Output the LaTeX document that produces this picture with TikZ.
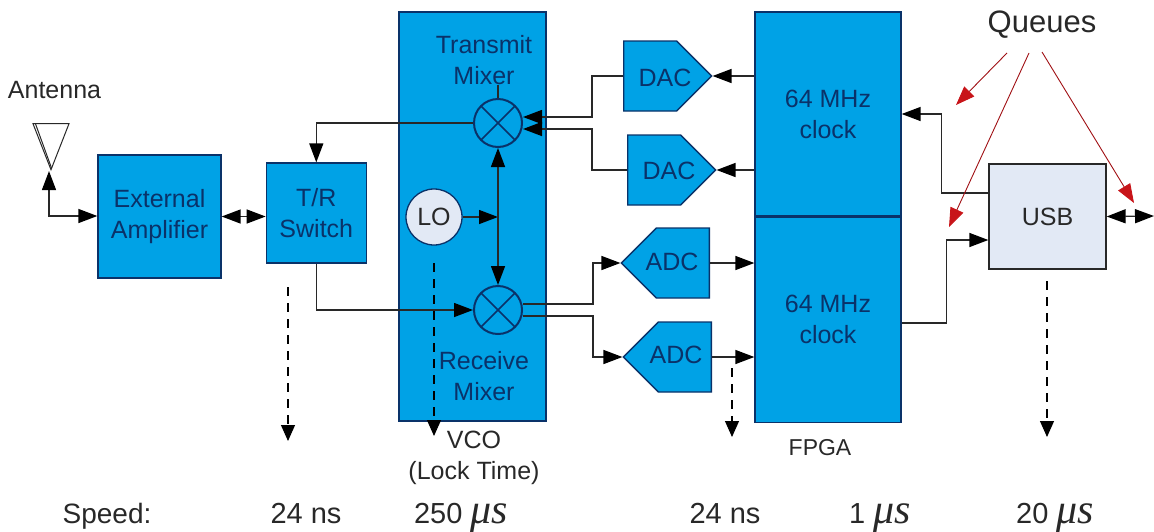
\documentclass[tikz,border=0pt]{standalone}
\usepackage{fontspec}
\setmainfont{Liberation Sans}
\newfontfamily\mufont{Liberation Serif}
\usepackage{tikz}
\usetikzlibrary{shapes.geometric,shapes.symbols,arrows.meta,positioning,calc}
\definecolor{blockblue}{RGB}{0,162,230}
\definecolor{navy}{RGB}{10,50,105}
\definecolor{pale}{RGB}{226,233,245}
\definecolor{inkgray}{RGB}{40,40,40}
\definecolor{queuered}{RGB}{200,20,25}
\newcommand{\fs}[1]{\fontsize{#1}{31}\selectfont}
\newcommand{\mus}{{\mufont\itshape\fs{42}μs}}
\begin{document}
\begin{tikzpicture}[x=1pt,y=-1pt,
  every node/.style={font=\fs{25},text=inkgray,inner sep=0pt},
  block/.style={draw=navy,line width=1.3pt,fill=blockblue,text=navy,align=center},
  dac/.style={block,signal,signal to=east,signal from=nowhere,signal pointer angle=90,
    minimum width=88pt,minimum height=70pt,anchor=west},
  adc/.style={block,signal,signal to=west,signal from=nowhere,signal pointer angle=90,
    minimum width=88pt,minimum height=70pt,anchor=east},
  mixer/.style={circle,draw=navy,line width=2pt,fill=blockblue,minimum size=48pt,
    path picture={\draw[navy,line width=1.6pt]
      (path picture bounding box.south west) -- (path picture bounding box.north east)
      (path picture bounding box.north west) -- (path picture bounding box.south east);}},
  speedrow/.style={font=\fs{29},anchor=base},
  link/.style={line width=1.4pt,draw=inkgray,-{Triangle[length=19pt,width=14pt,color=black]}},
  wire/.style={line width=1.4pt,draw=inkgray},
  both/.style={line width=1.4pt,draw=inkgray,
    {Triangle[length=19pt,width=14pt,color=black]}-{Triangle[length=19pt,width=14pt,color=black]}},
  drop/.style={line width=1.1pt,draw=black,dash pattern=on 9pt off 7pt,-{Triangle[length=16pt,width=14pt]}},
  queue/.style={line width=0.9pt,draw=queuered!80!black,
    -{Triangle[length=19pt,width=14pt,color=queuered]}}]
\useasboundingbox (0,0) rectangle (1154,531);
% main blocks
\node[block,minimum width=123pt,minimum height=123pt] (amp) at (159.5,216.5) {External\\Amplifier};
\node[block,minimum width=100pt,minimum height=100pt,right=44pt of amp,yshift=3.5pt] (sw) {T/R\\Switch};
\node[block,minimum width=147pt,minimum height=409pt] (vco) at (472.5,216.5) {};
\node[block,minimum width=146pt,minimum height=204pt] (clkA) at (828,114) {64 MHz\\clock};
\node[block,minimum width=146pt,minimum height=205pt,below=0pt of clkA] (clkB) {64 MHz\\clock};
\node[block,draw=inkgray,fill=pale,text=inkgray,minimum width=117pt,minimum height=105pt] (usb) at (1047.5,216.5) {USB};
% inside the vco
\node[mixer] (txmix) at (498,123) {};
\node[mixer] (rxmix) at (498,310) {};
\node[circle,draw=navy,line width=1.3pt,fill=pale,minimum size=56pt] (lo) at (434,217) {LO};
\node[text=navy,align=center] (txname) at (484,60) {Transmit\\Mixer};
\node[text=navy,align=center] (rxname) at (484,376) {Receive\\Mixer};
% converters
\node[dac] (dacA) at (623,76) {};
\node[dac] (dacB) at (627,170) {};
\node[adc] (adcA) at (710,263) {};
\node[adc] (adcB) at (712,357) {};
\node[text=navy] (dacAname) at (665,78) {DAC};
\node[text=navy] (dacBname) at (669,171) {DAC};
\node[text=navy] (adcAname) at (672,262) {ADC};
\node[text=navy] (adcBname) at (676,355) {ADC};
% antenna
\node[draw=inkgray,line width=1pt,isosceles triangle,isosceles triangle stretches,
  shape border rotate=-90,minimum width=36pt,minimum height=46pt] (ant) at (51,136) {};
\draw[inkgray,line width=1pt] ([xshift=3pt]ant.right corner) -- ([xshift=0.5pt,yshift=3pt]ant.apex);
% labels
\node (antname) at (54.5,90) {Antenna};
\node[font=\fs{31}] (queues) at (1042,25) {Queues};
\node[align=center] (vconame) at (474,458) {VCO\\(Lock Time)};
\node[font=\fs{23}] (fpganame) at (820,448) {FPGA};
\node[speedrow,font=\fs{28}] (speed) at (107,523) {Speed:};
\node[speedrow] (spA) at (306,523) {24 ns};
\node[speedrow] (spB) at (461,523) {250 \mus};
\node[speedrow] (spC) at (725,523) {24 ns};
\node[speedrow] (spD) at (880,523) {1 \mus};
\node[speedrow] (spE) at (1055,523) {20 \mus};
% free ends
\coordinate (swdrop) at (288,287);
\coordinate (swend) at (288,441);
\coordinate (lodrop) at (434,263);
\coordinate (loend) at (434,436);
\coordinate (adcdrop) at (732,368);
\coordinate (adcend) at (732,437);
\coordinate (usbdrop) at (1047,281);
\coordinate (usbend) at (1047,437);
\coordinate (qA) at (1007,53);
\coordinate (qAend) at (956,105);
\coordinate (qB) at (1029,53);
\coordinate (qBend) at (949,227);
\coordinate (qC) at (1042,52);
\coordinate (qCend) at (1134,203);
\coordinate (usbout) at (1154,216);
% connectors
\draw[both] ([xshift=-2pt]ant.apex) |- ([yshift=0.5pt]amp.west);
\draw[both] (amp.east) -- (amp.east -| sw.west);
\draw[link] (txmix.west) -| (sw.north);
\draw[wire] (txmix.north) -- (txname.south -| txmix.north);
\draw[link] (dacA.west) -- ++(-31,0) |- ([yshift=6pt]txmix.east);
\draw[link] (dacB.west) -- ++(-35,0) |- ([yshift=-6pt]txmix.east);
\draw[link] (dacA.east -| clkA.west) -- (dacA.east);
\draw[link] (dacB.east -| clkA.west) -- (dacB.east);
\draw[link] (lo.east) -- (lo.east -| txmix.south);
\draw[both] (txmix.south) -- (rxmix.north);
\draw[link] (sw.south) |- (rxmix.west);
\draw[link] ([yshift=6pt]rxmix.east) -- ++(70,0) |- (adcA.west);
\draw[link] ([yshift=-6pt]rxmix.east) -- ++(70,0) |- (adcB.west);
\draw[link] (adcA.east) -- (adcA.east -| clkB.west);
\draw[link] (adcB.east) -- (adcB.east -| clkB.west);
\draw[link] ([yshift=23.5pt]usb.west) -- ++(-47,0) |- (clkA.east);
\draw[link] ([yshift=-3pt]clkB.east) -- ++(45,0) |- ([yshift=-23.5pt]usb.west);
\draw[both] (usb.east) -- (usbout);
\draw[drop] (swdrop) -- (swend);
\draw[drop] (lodrop) -- (loend);
\draw[drop] (adcdrop) -- (adcend);
\draw[drop] (usbdrop) -- (usbend);
\draw[queue] (qA) -- (qAend);
\draw[queue] (qB) -- (qBend);
\draw[queue] (qC) -- (qCend);
\end{tikzpicture}
\end{document}
